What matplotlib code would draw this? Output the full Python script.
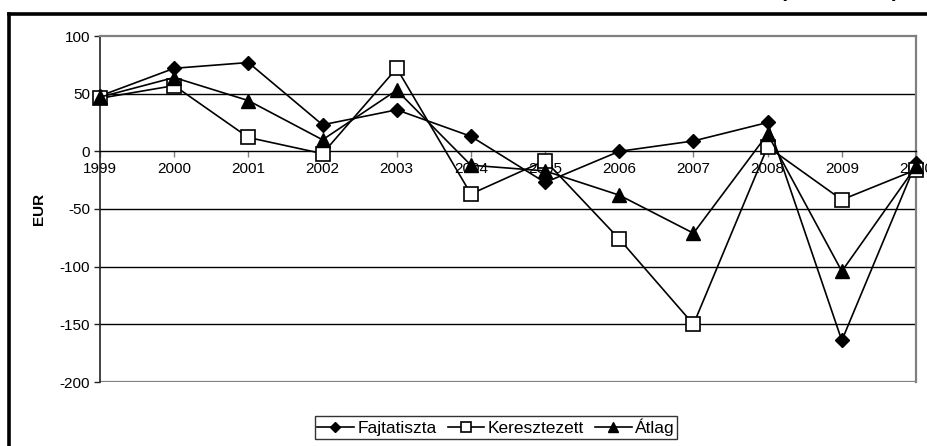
import matplotlib
matplotlib.use("Agg")
import matplotlib.pyplot as plt
from matplotlib.lines import Line2D

plt.rcParams['font.family'] = ['Liberation Sans', 'DejaVu Sans']

# Yearly margin (EUR) by breed type
years = [1999, 2000, 2001, 2002, 2003, 2004, 2005, 2006, 2007, 2008, 2009, 2010]
fajtatiszta = [48, 72, 77, 23, 36, 13, -27, 0, 9, 25, -164, -10]
keresztezett = [46, 57, 12, -2, 72, -37, -8, -76, -150, 4, -42, -16]
atlag = [47, 64, 44, 10, 53, -12, -17, -38, -71, 15, -104, -13]

series_names = ["Fajtatiszta", "Keresztezett", "Átlag"]
y_ticks = [100, 50, 0, -50, -100, -150, -200]

W, H = 927, 446
fig = plt.figure(figsize=(W / 100, H / 100), dpi=100)

# outer chart frame (top and left edges)
frame_kw = dict(color="black", lw=2.6, transform=fig.transFigure, clip_on=False)
fig.add_artist(Line2D([9 / W, 9 / W], [1 - 14 / H, -0.05], **frame_kw))
fig.add_artist(Line2D([9 / W, 1.05], [1 - 14 / H, 1 - 14 / H], **frame_kw))

# heading sitting above the frame
fig.text(839 / W, 1 + 3 / H, "(1999–2010)", ha="center", va="baseline",
         fontsize=15, fontweight="bold")

left, right, top, bottom = 100, 916, 36, 382
ax = fig.add_axes([left / W, 1 - bottom / H, (right - left) / W, (bottom - top) / H])

x = list(range(len(years)))
gray = "#808080"

for yv in y_ticks[1:-1]:
    if yv != 0:
        ax.axhline(yv, color="black", lw=1.0, zorder=1)
ax.axhline(-200, color=gray, lw=1.6, zorder=1)

styles = [
    dict(marker="D", ms=7.2, mfc="black", mec="black"),
    dict(marker="s", ms=9.5, mfc="white", mec="black", mew=1.2),
    dict(marker="^", ms=10.5, mfc="black", mec="black"),
]
for vals, name, st in zip([fajtatiszta, keresztezett, atlag], series_names, styles):
    ax.plot(x, vals, color="black", lw=1.2, label=name, clip_on=False, zorder=3, **st)

ax.set_xlim(0, len(years) - 1)
ax.set_ylim(-200, 100)
ax.set_yticks(y_ticks)
ax.set_yticklabels([str(v) for v in y_ticks])
ax.set_xticks(x)
ax.set_xticklabels([str(y) for y in years])

ax.spines["bottom"].set_position(("data", 0))
ax.spines["bottom"].set_color("black")
ax.spines["bottom"].set_linewidth(1.0)
ax.spines["top"].set_color(gray)
ax.spines["top"].set_linewidth(1.6)
ax.spines["right"].set_color(gray)
ax.spines["right"].set_linewidth(1.6)
ax.spines["left"].set_color("#222222")
ax.spines["left"].set_linewidth(1.2)

ax.tick_params(axis="y", direction="out", length=4, width=1, color="#222222",
               labelsize=11, pad=3)
ax.tick_params(axis="x", direction="out", length=4, width=1, color=gray,
               labelsize=11, pad=4)

ax.set_ylabel("EUR", fontsize=11, fontweight="bold")
ax.yaxis.set_label_coords(-54 / (right - left), 0.5)

leg = fig.legend(loc="upper center", bbox_to_anchor=(496 / W, 1 - 416 / H),
                 ncol=3, frameon=True, fancybox=False, fontsize=12.5,
                 handlelength=2.1, handletextpad=0.2, columnspacing=0.65,
                 markerscale=0.72, borderpad=0.15, borderaxespad=0,
                 edgecolor="black")
leg.get_frame().set_linewidth(1.0)

fig.savefig("out.png", dpi=100)
